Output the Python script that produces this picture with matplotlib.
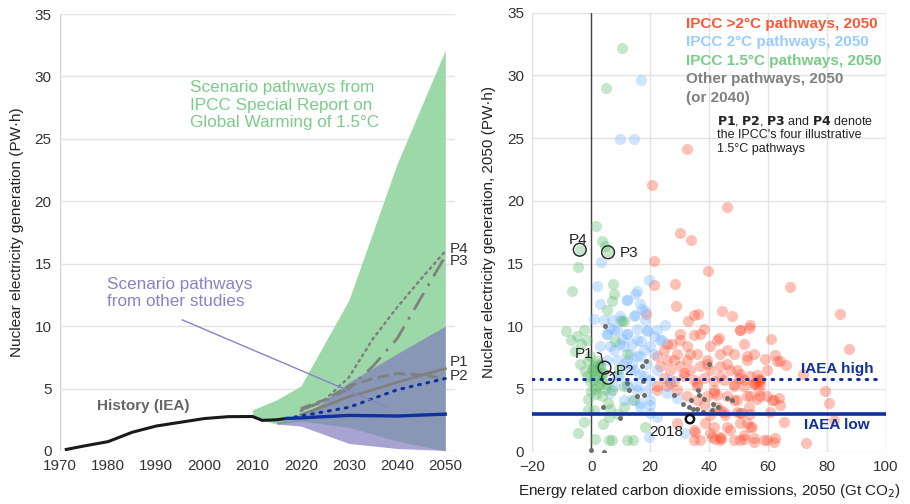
import numpy as np
import matplotlib
matplotlib.use("Agg")
import matplotlib.pyplot as plt

plt.rcParams['font.family'] = ['Liberation Sans', 'DejaVu Sans']

# ---------------- Left panel data: nuclear generation pathways (PW·h) ----------------
hist_years = [1971, 1975, 1980, 1985, 1990, 1995, 2000, 2005, 2010, 2012, 2015, 2017]
hist_vals = [0.1, 0.4, 0.75, 1.5, 2.0, 2.3, 2.6, 2.75, 2.76, 2.45, 2.5, 2.6]

band_years = [2010, 2015, 2020, 2030, 2040, 2050]
ipcc_upper = [3.3, 4.1, 5.2, 12.1, 23.0, 32.1]
ipcc_lower = [2.7, 2.15, 2.4, 1.9, 0.8, 0.0]

other_years = [2015, 2020, 2030, 2040, 2050]
other_upper = [2.35, 2.6, 5.5, 7.8, 10.0]
other_lower = [2.15, 2.0, 0.6, 0.2, 0.05]

iaea_years = [2017, 2020, 2030, 2040, 2050]
iaea_low_path = [2.6, 2.65, 2.85, 2.8, 2.95]
iaea_high_path = [2.6, 2.8, 3.5, 4.9, 5.8]

p_years = [2020, 2025, 2030, 2035, 2040, 2045, 2050]
p1_path = [2.9, 3.6, 4.35, 4.9, 5.5, 6.05, 6.6]
p2_path = [3.4, 4.1, 5.2, 5.8, 6.2, 6.1, 5.8]
p3_path = [3.3, 4.0, 5.0, 6.8, 9.0, 12.3, 15.6]
p4_path = [3.2, 4.1, 5.9, 9.0, 11.5, 13.8, 16.0]

# ---------------- Right panel data: 2050 emissions (Gt CO2) vs nuclear (PW·h) ----------------
red_x = [32.6, 20.6, 46.2, 30.0, 33.9, 21.4, 39.8, 67.5, 21.2, 28.3, 28.9, 84.4, 44.3, 47.8,
         36.1, 32.7, 18.6, 87.5, 61.0, 53.5, 50.6, 43.3, 38.4, 34.8, 30.2, 27.4, 24.6, 22.3,
         25.7, 29.1, 32.6, 35.9, 40.4, 43.8, 48.4, 51.7, 55.1, 59.1, 62.9, 66.1, 71.8, 79.5,
         80.6, 82.3, 73.0, 58.5, 61.9, 55.1, 51.8, 48.4, 43.8, 41.0, 34.8, 41.6, 46.1, 50.6,
         54.6, 35.3, 40.4, 45.0, 51.1, 60.8, 65.4, 64.2, 62.0, 59.7, 56.3, 52.9, 49.5, 46.1,
         42.7, 39.3, 35.9, 32.6, 29.1, 25.7, 22.3, 24.6, 28.0, 31.4, 34.8, 38.2, 41.6, 45.0,
         48.4, 51.7, 55.1, 56.8, 57.4, 54.0, 50.6, 47.2, 43.8, 40.4, 37.0, 33.6, 30.2, 26.8,
         32.6, 39.4, 46.1, 52.9, 59.7, 56.8, 53.4, 49.5, 42.7, 48.4, 41.6, 36.0, 44.0, 52.0,
         57.0, 56.0, 42.0, 45.5, 38.5, 50.0, 54.0,
         34.8, 37.0, 30.2, 42.7, 50.6, 25.7, 33.6, 46.1, 52.9, 28.0, 39.3, 23.4, 49.5, 31.4,
         43.8, 35.9, 26.8, 51.8, 22.3, 41.6, 48.4, 38.2, 43.8, 50.6, 34.8, 40.4, 43.8, 47.2,
         52.9, 50.6, 37.0, 29.1,
         54.0, 62.5, 64.2, 56.3, 57.4, 55.1, 54.0, 57.4, 61.4, 63.6, 54.0, 55.1, 59.7, 62.5]
red_y = [24.1, 21.3, 19.5, 17.4, 16.9, 15.2, 14.4, 13.1, 13.3, 13.4, 11.6, 11.0, 11.2, 10.8,
         11.0, 10.4, 11.0, 8.2, 9.0, 9.9, 9.7, 9.1, 9.8, 9.3, 9.4, 8.6, 8.1, 7.6,
         7.3, 7.8, 8.4, 7.8, 8.4, 7.8, 7.8, 8.6, 7.8, 7.4, 7.2, 6.9, 6.2, 4.8,
         3.9, 2.5, 0.7, 0.9, 0.8, 0.8, 1.3, 0.9, 0.9, 1.2, 0.9, 2.0, 2.0, 2.3,
         2.0, 1.6, 2.9, 3.2, 3.1, 3.2, 2.4, 3.7, 4.1, 4.4, 4.2, 4.4, 4.1, 4.4,
         4.5, 4.4, 4.1, 4.4, 4.9, 5.2, 5.2, 5.9, 5.6, 6.0, 5.7, 5.9, 5.6, 5.7,
         5.4, 5.7, 5.4, 5.6, 5.4, 6.0, 6.2, 6.5, 6.8, 6.5, 6.8, 6.5, 6.8, 6.5,
         7.3, 7.3, 7.0, 7.3, 6.5, 4.9, 3.6, 3.2, 3.6, 5.2, 4.9, 5.2, 1.1, 1.0,
         5.8, 5.5, 1.0, 2.9, 2.3, 5.9, 3.0,
         10.9, 9.4, 8.9, 8.9, 9.7, 8.6, 7.8, 8.1, 7.6, 7.3, 7.0, 6.8, 6.5, 6.3,
         6.0, 5.5, 5.5, 5.2, 4.9, 4.7, 4.1, 3.7, 3.3, 3.1, 1.7, 1.5, 1.2, 1.7,
         2.3, 0.9, 0.9, 2.3,
         10.1, 7.7, 7.2, 6.1, 5.7, 5.5, 4.4, 4.4, 4.1, 4.3, 2.0, 1.1, 0.9, 1.1]

blue_x = [16.8, 9.6, 14.4, 3.4, 1.9, 19.5, 14.9, 12.1, 16.6, 18.3, 0.8, 7.0, 9.9, 14.9,
          25.1, 5.3, 8.7, 12.1, 15.5, 18.9, 21.2, 24.0, 3.1, 7.6, 11.0, 13.8, 17.8, 21.2,
          5.3, 8.7, 12.1, 15.5, 18.9, 22.3, 9.3, 13.2, 16.6, 20.0, 12.1, 15.5, 18.9, 13.8,
          16.6, 20.0, 22.3, 25.7, 29.1, 19.5, 31.9, 26.8, 10.5, 6.5, 17.0, 14.0,
          15.5, 17.2, 12.1, 14.4, 18.3, 9.9, 7.6, 12.1, 15.5, 18.9, 9.9, 6.5, 13.3, 16.6,
          20.0, 11.0, 14.4, 8.7, 17.8, 12.1, 7.6, 15.5, 6.5, 11.0, 20.0, 3.1, 22.3, 23.4,
          4.2, 5.3, 20.0, 16.6]
blue_y = [29.6, 24.9, 24.9, 15.1, 13.2, 13.7, 12.6, 12.1, 11.8, 11.2, 10.6, 10.5, 10.8, 10.9,
          10.1, 9.4, 9.7, 9.4, 9.8, 9.6, 9.2, 8.9, 8.4, 8.1, 8.4, 8.6, 8.1, 7.8,
          7.3, 7.3, 7.3, 7.6, 7.0, 6.5, 6.0, 6.5, 6.2, 5.7, 5.4, 5.2, 4.9, 4.1,
          3.9, 3.7, 2.8, 4.7, 4.3, 1.2, 1.5, 5.7, 9.0, 9.9, 8.8, 7.0,
          12.8, 11.4, 12.1, 10.8, 10.5, 10.5, 9.7, 9.4, 8.9, 9.7, 8.6, 8.4, 7.8, 7.6,
          8.4, 7.0, 6.5, 6.0, 6.0, 5.2, 5.2, 4.9, 4.7, 4.1, 4.1, 11.8, 9.7, 8.9,
          10.5, 9.4, 3.1, 3.6]

green_x = [10.6, 5.0, 1.6, 4.5, 5.7, -3.9, -4.5, -6.6, 7.4, 7.6, 7.2, 5.3, 11.2, -8.5,
           -4.9, -2.6, -1.5, -3.7, -0.3, 0.8, 1.4, 2.5, 3.6, 0.8, -1.5, 1.9, 5.3, 7.0,
           1.4, 3.6, 5.7, 11.0, 0.8, 5.9, -2.6, -4.5, 1.4, 5.9, 7.0, 12.1, 14.2, 18.3,
           14.4, 11.0, 12.1, 7.9, 9.3, 2.0, 3.0, 4.0, 2.8, 0.5, 10.5,
           -1.0, 0.3, 1.0, 2.2, -0.5, 2.8, 1.5, -2.0, 3.5, 0.0, 4.5, -1.2,
           -7.0, -5.5, -3.5, 6.5, 9.0, 4.0, -1.0, 3.6]
green_y = [32.2, 29.0, 18.0, 16.4, 15.9, 16.1, 14.7, 12.8, 13.4, 12.6, 12.0, 11.3, 10.4, 9.6,
           9.2, 9.7, 8.9, 7.0, 7.6, 6.8, 6.5, 6.1, 5.7, 5.7, 6.0, 5.2, 5.4, 4.9,
           5.0, 4.4, 3.9, 3.6, 3.3, 2.8, 2.4, 1.5, 1.0, 0.9, 0.9, 0.9, 0.9, 2.0,
           4.1, 5.2, 7.8, 8.8, 6.6, 7.2, 6.8, 6.3, 6.9, 6.4, 10.4,
           7.2, 6.6, 6.0, 7.0, 5.6, 5.4, 4.6, 6.4, 6.3, 4.8, 5.0, 4.2,
           8.9, 8.0, 8.6, 3.4, 3.0, 2.2, 3.3, 16.8]

gray_x = [0.0, 4.4, 4.8, 4.0, 9.9, 12.1, 12.9, 15.5, 17.8, 17.4, 17.1, 18.6, 28.0, 31.1,
          33.1, 34.5, 35.9, 33.9, 36.1, 36.5, 38.2, 37.9, 41.0, 41.2, 43.0, 46.1, 47.8, 40.0]
gray_y = [0.1, 0.0, 10.0, 3.6, 2.7, 5.5, 4.9, 4.4, 4.5, 5.6, 6.8, 7.2, 4.5, 3.8,
          3.6, 3.4, 3.4, 4.1, 4.9, 4.5, 4.2, 3.2, 3.3, 3.8, 3.6, 4.3, 4.1, 7.0]

illus_names = ['P1', 'P2', 'P3', 'P4']
illus_x = [4.5, 5.7, 5.7, -3.9]
illus_y = [6.7, 5.9, 15.9, 16.1]

actual_2018 = (33.5, 2.6)
iaea_high_2050 = 5.8
iaea_low_2050 = 3.0

# ---------------- Styling ----------------
GRID = '#e3e3e3'
TICK = '#333333'
GREEN_FILL = '#9dd8a9'
PURPLE_TOP = (129 / 255, 122 / 255, 188 / 255)
DARK_BLUE = '#10309e'
GREEN_TXT = '#7ccb8b'
PURPLE_TXT = '#8a82c6'

fig = plt.figure(figsize=(9.1, 5.04), dpi=100)
axL = fig.add_axes([0.0659, 0.1052, 0.434, 0.867])
axR = fig.add_axes([0.585, 0.1038, 0.3884, 0.871])

for ax in (axL, axR):
    for s in ax.spines.values():
        s.set_visible(False)
    ax.tick_params(length=0, labelsize=11, colors=TICK, pad=6)
    ax.set_axisbelow(True)

# ---- left panel ----
axL.set_xlim(1970, 2052)
axL.set_ylim(0, 35)
axL.set_xticks(range(1970, 2051, 10))
axL.set_yticks(range(0, 36, 5))
axL.grid(axis='y', color=GRID, lw=1)
axL.axvline(1970, color='#d0d0d0', lw=1, zorder=0)

axL.fill_between(band_years, ipcc_lower, ipcc_upper, color=GREEN_FILL, lw=0, zorder=1)
axL.fill_between(other_years, other_lower, other_upper, color=PURPLE_TOP, alpha=0.69, lw=0, zorder=2)

axL.plot(hist_years, hist_vals, color='#1a1a1a', lw=2.2, zorder=5, solid_capstyle='butt')
axL.plot(iaea_years, iaea_low_path, color=DARK_BLUE, lw=2.4, zorder=5)
axL.plot(iaea_years, iaea_high_path, color=DARK_BLUE, lw=2.2, ls=(0, (0.6, 2.2)),
         dash_capstyle='round', zorder=5)
axL.plot(p_years, p1_path, color='#808080', lw=2.0, zorder=4)
axL.plot(p_years, p2_path, color='#808080', lw=2.0, ls=(0, (4, 2)), zorder=4)
axL.plot(p_years, p3_path, color='#808080', lw=2.0, ls=(0, (7, 3, 1, 3)), zorder=4)
axL.plot(p_years, p4_path, color='#808080', lw=1.8, ls=(0, (0.8, 1.8)),
         dash_capstyle='round', zorder=4)

for lab, yv in [('P4', 16.2), ('P3', 15.2), ('P1', 7.1), ('P2', 6.0)]:
    axL.text(2051.0, yv, lab, fontsize=11, color=TICK, va='center', ha='left',
             clip_on=False)

axL.text(1997.1, 27.7, 'Scenario pathways from\nIPCC Special Report on\nGlobal Warming of 1.5°C',
         color=GREEN_TXT, fontsize=12.3, va='center', ha='left', linespacing=1.2)
axL.text(1979.8, 12.65, 'Scenario pathways\nfrom other studies',
         color=PURPLE_TXT, fontsize=12.3, va='center', ha='left', linespacing=1.2)
axL.plot([1995.4, 2038.0], [10.5, 3.5], color='#8a82c6', lw=1.0, zorder=6)
axL.text(1977.6, 3.6, 'History (IEA)', color='#666666', fontsize=11, fontweight='bold',
         va='center', ha='left')
axL.set_ylabel('Nuclear electricity generation (PW·h)', fontsize=11, color='#222222', labelpad=8)

# ---- right panel ----
axR.set_xlim(-20, 100)
axR.set_ylim(0, 35)
axR.set_xticks(range(-20, 101, 20))
axR.set_yticks(range(0, 36, 5))
axR.grid(True, color=GRID, lw=1)
axR.axvline(100, color=GRID, lw=1, zorder=0)
axR.axvline(-20, color=GRID, lw=1, zorder=0)
axR.plot([0, 0], [0, 35], color='#444444', lw=1.0, zorder=1)

msz = 64
axR.scatter(red_x, red_y, s=msz, color='#ff4a2a', alpha=0.34, lw=0, zorder=2)
axR.scatter(blue_x, blue_y, s=msz, color='#7fb8ff', alpha=0.38, lw=0, zorder=3)
axR.scatter(green_x, green_y, s=msz, color='#5cbb6c', alpha=0.36, lw=0, zorder=4)
axR.scatter(gray_x, gray_y, s=13, color='#6e6e6e', lw=0, zorder=5)

axR.axhline(iaea_low_2050, color=DARK_BLUE, lw=2.6, zorder=6)
axR.plot([-20, 98], [iaea_high_2050, iaea_high_2050], color=DARK_BLUE, lw=2.2,
         ls=(0, (0.5, 2.3)), dash_capstyle='round', zorder=6)

axR.scatter(illus_x, illus_y, s=85, facecolor='none', edgecolor='#222222', lw=1.0, zorder=7)
axR.scatter([actual_2018[0]], [actual_2018[1]], s=36, facecolor='none', edgecolor='#111111',
            lw=1.8, zorder=7)
axR.text(25.3, 1.55, '2018', fontsize=11, color='#222222', ha='center', va='center', zorder=8)

axR.text(-4.4, 16.9, 'P4', fontsize=11, color='#222222', ha='center', va='center', zorder=8)
axR.text(9.6, 15.85, 'P3', fontsize=11, color='#222222', ha='left', va='center', zorder=8)
axR.text(-2.6, 7.8, 'P1', fontsize=11, color='#222222', ha='center', va='center', zorder=8)
axR.text(8.3, 6.4, 'P2', fontsize=11, color='#222222', ha='left', va='center', zorder=8)
axR.plot([2.2, 3.3, 3.9], [7.9, 7.8, 7.1], color='#222222', lw=0.9, zorder=8)
axR.plot([6.4, 8.0], [6.1, 6.35], color='#222222', lw=0.9, zorder=8)

axR.text(95.7, 6.6, 'IAEA high', color=DARK_BLUE, fontsize=11, fontweight='bold',
         ha='right', va='center', zorder=8)
axR.text(94.6, 2.13, 'IAEA low', color=DARK_BLUE, fontsize=11, fontweight='bold',
         ha='right', va='center', zorder=8)

legend_items = [('IPCC >2°C pathways, 2050', '#ff5533'),
                ('IPCC 2°C pathways, 2050', '#99ccff'),
                ('IPCC 1.5°C pathways, 2050', '#77cc88'),
                ('Other pathways, 2050', '#808080'),
                ('(or 2040)', '#808080')]
for i, (txt, col) in enumerate(legend_items):
    axR.text(32.3, 34.1 - i * 1.475, txt, color=col, fontsize=11, fontweight='bold',
             ha='left', va='center', zorder=8)

axR.text(42.6, 25.3, r'$\bf{P1}$, $\bf{P2}$, $\bf{P3}$ and $\bf{P4}$ denote' '\n'
         "the IPCC's four illustrative\n1.5°C pathways",
         fontsize=9.0, color='#222222', ha='left', va='center', linespacing=1.2, zorder=8)

axR.set_ylabel('Nuclear electricity generation, 2050 (PW·h)', fontsize=11, color='#222222',
               labelpad=8)
axR.set_xlabel('Energy related carbon dioxide emissions, 2050 (Gt CO$_2$)', fontsize=11,
               color='#222222', labelpad=6)

fig.savefig('out.png', dpi=100)
